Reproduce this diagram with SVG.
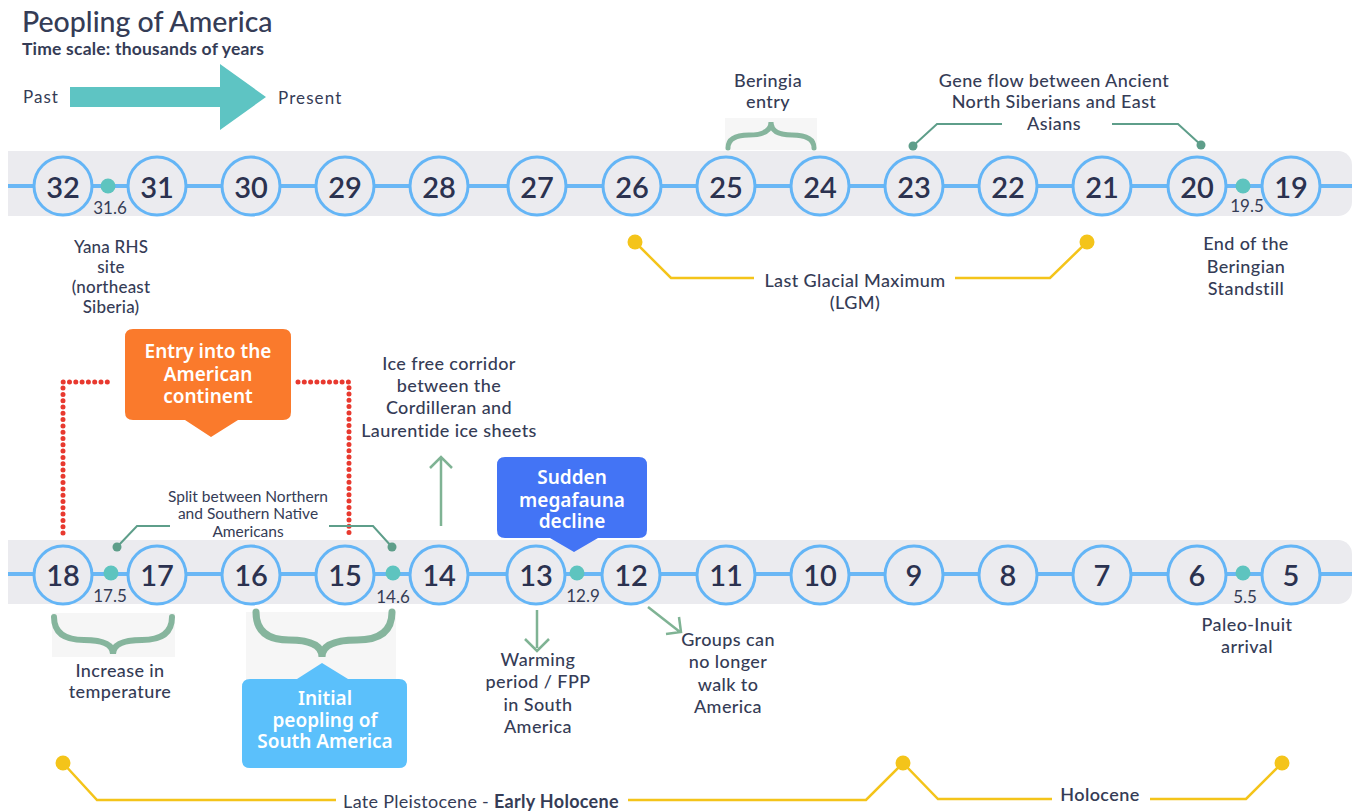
<svg xmlns="http://www.w3.org/2000/svg" width="1352" height="812" viewBox="0 0 1352 812">
<style>
text{font-family:Lato,"Open Sans","Liberation Sans",sans-serif;fill:#353c56}
.num{font-size:29px;font-weight:600;text-anchor:middle;fill:#2b3250}
.lbl{font-size:18px;font-weight:500;text-anchor:middle;letter-spacing:0.4px}
.sm{font-size:17px;text-anchor:middle}
.circ{fill:#ebebef;stroke:#64b5f6;stroke-width:3}
.dot{fill:#5ec4bf}
.band{fill:#ebebef}
.axis{stroke:#6ab7f5;stroke-width:4}
.gc{fill:none;stroke:#5e9e8a;stroke-width:2}
.gd{fill:#5e9e8a}
.br{fill:none;stroke:#86b59d;stroke-linecap:round}
.yl{fill:none;stroke:#f4c41a;stroke-width:2.5}
.yd{fill:#f4c41a}
.red{fill:none;stroke:#e8392f;stroke-width:5;stroke-linecap:round;stroke-dasharray:0 6.3}
.arr{fill:none;stroke:#7fb394;stroke-width:2.5}
.box{font-family:"Noto Sans","Open Sans",sans-serif;font-size:19px;font-weight:600;fill:#ffffff;text-anchor:middle}
</style>
<g id="title">
<text x="22" y="32" style="font-size:28.5px;font-weight:500">Peopling of America</text>
<text x="22" y="55" style="font-size:17.5px;font-weight:700;letter-spacing:0.2px">Time scale: thousands of years</text>
<text x="23" y="103" style="font-size:17px;letter-spacing:1px">Past</text>
<polygon points="70,87 220,87 220,64 266,97 220,130 220,107 70,107" fill="#5ec4c3"/>
<text x="278" y="104" style="font-size:17px;letter-spacing:1.1px">Present</text>
</g>
<g id="bands">
<rect x="8" y="151" width="1344" height="65" rx="14" class="band"/>
<rect x="8" y="151" width="20" height="65" class="band"/>
<rect x="8" y="540" width="1344" height="64" rx="14" class="band"/>
<rect x="8" y="540" width="20" height="64" class="band"/>
<line x1="8" y1="186" x2="1352" y2="186" class="axis"/>
<line x1="8" y1="574" x2="1352" y2="574" class="axis"/>
</g>
<g id="connectors">
<path class="gc" d="M913,146 L937,124 L1002,124 M1112,124 L1178,124 L1201,145"/>
<circle cx="913" cy="146" r="4.5" class="gd"/><circle cx="1201" cy="145" r="4.5" class="gd"/>
<path class="yl" d="M635,242 L671,278 L754,278 M955,278 L1050,278 L1087,242"/>
<circle cx="635" cy="242" r="7.5" class="yd"/><circle cx="1087" cy="242" r="7.5" class="yd"/>
<path class="red" d="M63,533 L63,382 L112,382"/>
<path class="red" d="M298,382 L349,382 L349,533"/>
<path class="gc" d="M117,547 L137,526 L170,526 M329,526 L373,526 L392,547"/>
<circle cx="117" cy="547" r="4.5" class="gd"/><circle cx="392" cy="547" r="4.5" class="gd"/>
<path class="arr" d="M441,526 L441,458 M430,468 L441,457 L452,468"/>
<path class="arr" d="M537,610 L537,648 M525,639 L537,651 L549,639"/>
<path class="arr" d="M648,607 L680,632 M679,617 L681,632 L666,634"/>
<path class="yl" d="M63,763 L97,800 L336,800 M628,800 L866,800 L903,763 L938,799 L1052,799 M1150,799 L1246,799 L1282,763"/>
<circle cx="63" cy="763" r="7.5" class="yd"/><circle cx="903" cy="763" r="7.5" class="yd"/><circle cx="1282" cy="763" r="7.5" class="yd"/>
</g>
<g id="top-nodes">
<circle cx="63" cy="186" r="29" class="circ"/><text x="63" y="198" class="num">32</text>
<circle cx="157" cy="186" r="29" class="circ"/><text x="157" y="198" class="num">31</text>
<circle cx="251" cy="186" r="29" class="circ"/><text x="251" y="198" class="num">30</text>
<circle cx="345" cy="186" r="29" class="circ"/><text x="345" y="198" class="num">29</text>
<circle cx="439" cy="186" r="29" class="circ"/><text x="439" y="198" class="num">28</text>
<circle cx="537" cy="186" r="29" class="circ"/><text x="537" y="198" class="num">27</text>
<circle cx="632" cy="186" r="29" class="circ"/><text x="632" y="198" class="num">26</text>
<circle cx="726" cy="186" r="29" class="circ"/><text x="726" y="198" class="num">25</text>
<circle cx="820" cy="186" r="29" class="circ"/><text x="820" y="198" class="num">24</text>
<circle cx="914" cy="186" r="29" class="circ"/><text x="914" y="198" class="num">23</text>
<circle cx="1008" cy="186" r="29" class="circ"/><text x="1008" y="198" class="num">22</text>
<circle cx="1102" cy="186" r="29" class="circ"/><text x="1102" y="198" class="num">21</text>
<circle cx="1197" cy="186" r="29" class="circ"/><text x="1197" y="198" class="num">20</text>
<circle cx="1291" cy="186" r="29" class="circ"/><text x="1291" y="198" class="num">19</text>
<circle cx="108" cy="186" r="7.5" class="dot"/><text x="110" y="214" class="sm">31.6</text>
<circle cx="1243" cy="186" r="7.5" class="dot"/><text x="1247" y="212" class="sm">19.5</text>
</g>
<g id="bottom-nodes">
<circle cx="63" cy="575" r="29" class="circ"/><text x="63" y="586" class="num">18</text>
<circle cx="157" cy="575" r="29" class="circ"/><text x="157" y="586" class="num">17</text>
<circle cx="251" cy="575" r="29" class="circ"/><text x="251" y="586" class="num">16</text>
<circle cx="345" cy="575" r="29" class="circ"/><text x="345" y="586" class="num">15</text>
<circle cx="439" cy="575" r="29" class="circ"/><text x="439" y="586" class="num">14</text>
<circle cx="536" cy="575" r="29" class="circ"/><text x="536" y="586" class="num">13</text>
<circle cx="631" cy="575" r="29" class="circ"/><text x="631" y="586" class="num">12</text>
<circle cx="726" cy="575" r="29" class="circ"/><text x="726" y="586" class="num">11</text>
<circle cx="820" cy="575" r="29" class="circ"/><text x="820" y="586" class="num">10</text>
<circle cx="914" cy="575" r="29" class="circ"/><text x="914" y="586" class="num">9</text>
<circle cx="1008" cy="575" r="29" class="circ"/><text x="1008" y="586" class="num">8</text>
<circle cx="1102" cy="575" r="29" class="circ"/><text x="1102" y="586" class="num">7</text>
<circle cx="1197" cy="575" r="29" class="circ"/><text x="1197" y="586" class="num">6</text>
<circle cx="1291" cy="575" r="29" class="circ"/><text x="1291" y="586" class="num">5</text>
<circle cx="111" cy="573" r="7.5" class="dot"/><text x="110" y="602" class="sm">17.5</text>
<circle cx="393" cy="573" r="7.5" class="dot"/><text x="393" y="603" class="sm">14.6</text>
<circle cx="577" cy="573" r="7.5" class="dot"/><text x="583" y="602" class="sm">12.9</text>
<circle cx="1243" cy="573" r="7.5" class="dot"/><text x="1245" y="603" class="sm">5.5</text>
</g>
<g id="beringia-entry">
<rect x="725" y="118" width="92" height="32" fill="#f6f6f6"/>
<path class="br" stroke-width="5" d="M728,148 Q728,135 749,135 Q771,135 771,122 Q771,135 792,135 Q814,135 814,148"/>
<text class="lbl" x="768" y="87">Beringia</text>
<text class="lbl" x="768" y="108">entry</text>
</g>
<g id="gene-flow">
<text class="lbl" x="1054" y="87">Gene flow between Ancient</text>
<text class="lbl" x="1054" y="108">North Siberians and East</text>
<text class="lbl" x="1054" y="130">Asians</text>
</g>
<g id="yana">
<text class="lbl" x="111" y="253" style="font-size:17px;letter-spacing:0.2px">Yana RHS</text>
<text class="lbl" x="111" y="273" style="font-size:17px;letter-spacing:0.2px">site</text>
<text class="lbl" x="111" y="293" style="font-size:17px;letter-spacing:0.2px">(northeast</text>
<text class="lbl" x="111" y="313" style="font-size:17px;letter-spacing:0.2px">Siberia)</text>
</g>
<g id="lgm">
<text class="lbl" x="855" y="287">Last Glacial Maximum</text>
<text class="lbl" x="855" y="309">(LGM)</text>
</g>
<g id="standstill">
<text class="lbl" x="1246" y="250">End of the</text>
<text class="lbl" x="1246" y="273">Beringian</text>
<text class="lbl" x="1246" y="295">Standstill</text>
</g>
<g id="entry-box">
<path d="M133,329 L283,329 Q291,329 291,337 L291,412 Q291,420 283,420 L238,420 L211,437 L185,420 L133,420 Q125,420 125,412 L125,337 Q125,329 133,329 Z" fill="#fa7a2c"/>
<text class="box" x="208" y="358">Entry into the</text>
<text class="box" x="208" y="381">American</text>
<text class="box" x="208" y="403">continent</text>
</g>
<g id="split">
<text x="248" y="502" style="font-size:15.5px;text-anchor:middle">Split between Northern</text>
<text x="248" y="519" style="font-size:15.5px;text-anchor:middle">and Southern Native</text>
<text x="248" y="537" style="font-size:15.5px;text-anchor:middle">Americans</text>
</g>
<g id="ice-free">
<text class="lbl" x="449" y="370">Ice free corridor</text>
<text class="lbl" x="449" y="392">between the</text>
<text class="lbl" x="449" y="414">Cordilleran and</text>
<text class="lbl" x="449" y="437">Laurentide ice sheets</text>
</g>
<g id="megafauna-box">
<path d="M505,457 L639,457 Q647,457 647,465 L647,530 Q647,538 639,538 L598,538 L574,552 L550,538 L505,538 Q497,538 497,530 L497,465 Q497,457 505,457 Z" fill="#4374f5"/>
<text class="box" x="572" y="484">Sudden</text>
<text class="box" x="572" y="507">megafauna</text>
<text class="box" x="572" y="528">decline</text>
</g>
<g id="temperature">
<rect x="52" y="613" width="123" height="44" fill="#f6f6f6"/>
<path class="br" stroke-width="6" d="M54,617 Q54,640 84,640 Q113,640 113,654 Q113,640 142,640 Q172,640 172,617"/>
<text class="lbl" x="120" y="677">Increase in</text>
<text class="lbl" x="120" y="698">temperature</text>
</g>
<g id="south-america">
<rect x="246" y="612" width="150" height="68" fill="#f6f6f6"/>
<path class="br" stroke-width="7" d="M256,612 Q256,640 289,640 Q322,640 322,657 Q322,640 357,640 Q392,640 392,612"/>
<path d="M250,679 L297,679 L322,663 L348,679 L399,679 Q407,679 407,687 L407,760 Q407,768 399,768 L250,768 Q242,768 242,760 L242,687 Q242,679 250,679 Z" fill="#5bc0fb"/>
<text class="box" x="325" y="705">Initial</text>
<text class="box" x="325" y="727">peopling of</text>
<text class="box" x="325" y="748">South America</text>
</g>
<g id="warming">
<text class="lbl" x="538" y="666">Warming</text>
<text class="lbl" x="538" y="688">period / FPP</text>
<text class="lbl" x="538" y="711">in South</text>
<text class="lbl" x="538" y="733">America</text>
</g>
<g id="groups">
<text class="lbl" x="728" y="646">Groups can</text>
<text class="lbl" x="728" y="668">no longer</text>
<text class="lbl" x="728" y="691">walk to</text>
<text class="lbl" x="728" y="713">America</text>
</g>
<g id="paleo-inuit">
<text class="lbl" x="1247" y="631">Paleo-Inuit</text>
<text class="lbl" x="1247" y="653">arrival</text>
</g>
<g id="periods">
<text x="481" y="808" style="font-size:18px;text-anchor:middle;letter-spacing:0.3px">Late Pleistocene - <tspan style="font-weight:700">Early Holocene</tspan></text>
<text x="1100" y="801" style="font-size:18px;font-weight:600;text-anchor:middle;letter-spacing:0.4px">Holocene</text>
</g>
</svg>
